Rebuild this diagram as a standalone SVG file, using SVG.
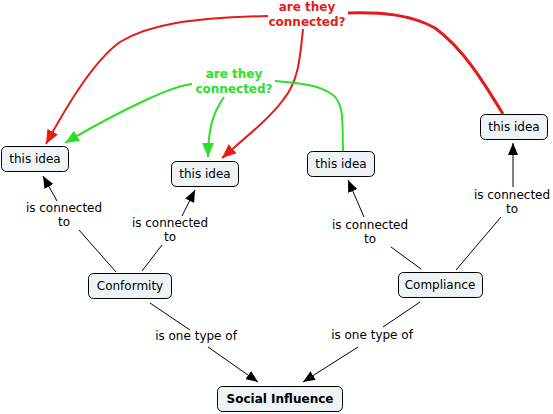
<svg xmlns="http://www.w3.org/2000/svg" width="553" height="414" viewBox="0 0 553 414">
<defs>
<style>
.node rect{fill:#eef3f5;stroke:#000;stroke-width:1}
.node text{font-family:"DejaVu Sans",Verdana,sans-serif;font-size:12px;fill:#000;text-anchor:middle}
.lbl{font-family:"DejaVu Sans",Verdana,sans-serif;font-size:12px;fill:#000;text-anchor:middle}
.q{font-family:"DejaVu Sans",Verdana,sans-serif;font-size:12px;font-weight:bold;text-anchor:middle}
.blk{stroke:#000;stroke-width:1;fill:none}
.red{stroke:#e41b17;stroke-width:2;fill:none}
.grn{stroke:#2ae02a;stroke-width:2;fill:none}
</style>
<marker id="ab" viewBox="0 0 12 10" refX="12" refY="5" markerWidth="12" markerHeight="10" markerUnits="userSpaceOnUse" orient="auto"><path d="M0,0L12,5L0,10z" fill="#000"/></marker>
<marker id="ar" viewBox="0 0 14 12" refX="14" refY="6" markerWidth="14" markerHeight="12" markerUnits="userSpaceOnUse" orient="auto"><path d="M0,0L14,6L0,12z" fill="#e41b17"/></marker>
<marker id="ag" viewBox="0 0 14 12" refX="14" refY="6" markerWidth="14" markerHeight="12" markerUnits="userSpaceOnUse" orient="auto"><path d="M0,0L14,6L0,12z" fill="#2ae02a"/></marker>
</defs>
<rect width="553" height="414" fill="#fff"/>
<g id="connectors">
<line class="blk" x1="116" y1="272" x2="79" y2="230"/>
<line class="blk" x1="57" y1="201" x2="43" y2="176" marker-end="url(#ab)"/>
<line class="blk" x1="142" y1="271" x2="162" y2="245"/>
<line class="blk" x1="182" y1="216" x2="195" y2="190" marker-end="url(#ab)"/>
<line class="blk" x1="421" y1="269" x2="391" y2="247"/>
<line class="blk" x1="364" y1="217" x2="348" y2="180" marker-end="url(#ab)"/>
<line class="blk" x1="456" y1="270" x2="501" y2="217"/>
<line class="blk" x1="513" y1="187" x2="513" y2="143" marker-end="url(#ab)"/>
<line class="blk" x1="150" y1="303" x2="190" y2="330"/>
<line class="blk" x1="208" y1="347" x2="258" y2="382" marker-end="url(#ab)"/>
<line class="blk" x1="420" y1="302" x2="383" y2="327"/>
<line class="blk" x1="358" y1="347" x2="303" y2="382" marker-end="url(#ab)"/>
<path class="red" d="M268,16 C190,18 150,24 120,42 C95,60 70,100 46,144" marker-end="url(#ar)"/>
<path class="red" d="M303,29 C300,60 298,82 283,100 C270,118 245,138 222,158" marker-end="url(#ar)"/>
<path class="red" style="stroke-width:3" d="M348,13 C380,12 410,14 435,28 C465,50 485,85 503,114"/>
<path class="grn" d="M192,84 C175,86 165,92 150,98 C120,112 90,128 65,143" marker-end="url(#ag)"/>
<path class="grn" d="M224,97 C215,110 208,125 208,157" marker-end="url(#ag)"/>
<path class="grn" d="M275,81 C300,83 320,85 333,95 C345,105 342,125 343,151"/>
<text class="lbl" x="64" y="212">is connected</text><text class="lbl" x="64" y="226">to</text>
<text class="lbl" x="170" y="227">is connected</text><text class="lbl" x="170" y="241">to</text>
<text class="lbl" x="370" y="229">is connected</text><text class="lbl" x="370" y="243">to</text>
<text class="lbl" x="512" y="199">is connected</text><text class="lbl" x="512" y="213">to</text>
<text class="lbl" x="196" y="340">is one type of</text>
<text class="lbl" x="372" y="339">is one type of</text>
<text class="q" x="307" y="11" fill="#e41b17">are they</text><text class="q" x="307" y="26" fill="#e41b17">connected?</text>
<text class="q" x="234" y="78" fill="#2ae02a">are they</text><text class="q" x="234" y="93" fill="#2ae02a">connected?</text>
</g>
<g id="idea1" class="node"><rect x="1.5" y="146.5" width="67" height="25" rx="5"/><text x="35" y="163">this idea</text></g>
<g id="idea2" class="node"><rect x="171.5" y="161.5" width="67" height="25" rx="5"/><text x="205" y="178">this idea</text></g>
<g id="idea3" class="node"><rect x="307.5" y="151.5" width="67" height="25" rx="5"/><text x="341" y="168">this idea</text></g>
<g id="idea4" class="node"><rect x="480.5" y="114.5" width="67" height="25" rx="5"/><text x="514" y="131">this idea</text></g>
<g id="conformity" class="node"><rect x="88.5" y="273.5" width="83" height="25" rx="5"/><text x="130" y="290">Conformity</text></g>
<g id="compliance" class="node"><rect x="398.5" y="272.5" width="84" height="25" rx="5"/><text x="440" y="289">Compliance</text></g>
<g id="social" class="node"><rect x="217.5" y="386.5" width="125" height="25" rx="5"/><text x="280" y="403" style="font-weight:bold">Social Influence</text></g>
</svg>
